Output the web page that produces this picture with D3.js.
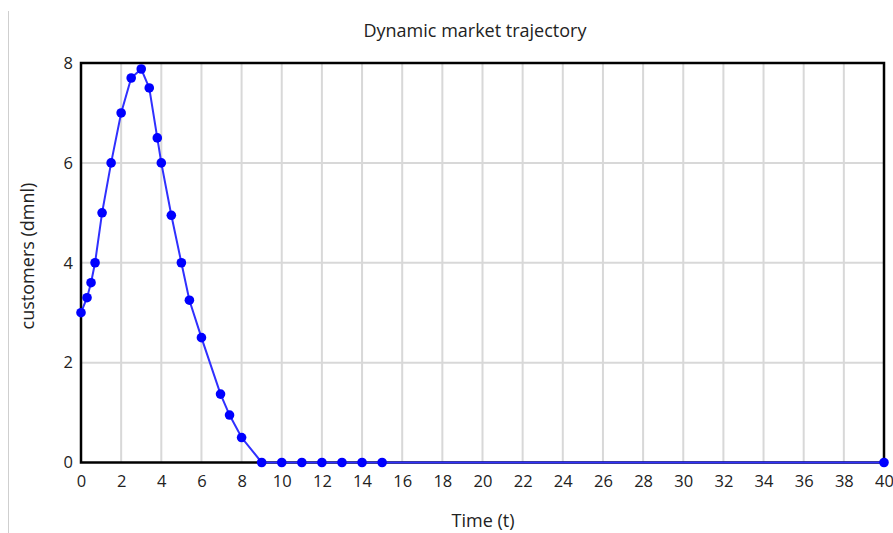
<!DOCTYPE html>
<html>
<head>
<meta charset="utf-8">
<script src="https://cdn.jsdelivr.net/npm/d3@7"></script>
<style>
  html, body { margin: 0; padding: 0; background: #fff; }
  svg { display: block; }
  text { font-family: "Open Sans", "Noto Sans", sans-serif; fill: #222; }
</style>
</head>
<body>
<svg id="chart" width="893" height="533"></svg>
<script>
// Simulated customer count over time
const times     = [0, 0.3, 0.5, 0.7, 1.05, 1.5, 2, 2.5, 3, 3.4, 3.8, 4, 4.5, 5, 5.4, 6, 6.95, 7.4, 8, 9, 10, 11, 12, 13, 14, 15, 40];
const customers = [3, 3.3, 3.6, 4, 5, 6, 7, 7.7, 7.88, 7.5, 6.5, 6, 4.95, 4, 3.25, 2.5, 1.37, 0.95, 0.5, 0, 0, 0, 0, 0, 0, 0, 0];
const xTicks = d3.range(0, 41, 2);
const yTicks = [0, 2, 4, 6, 8];
const titleText = "Dynamic market trajectory";
const xLabel = "Time (t)";
const yLabel = "customers (dmnl)";

const points = times.map((t, i) => ({ t, v: customers[i] }));

const svg = d3.select("#chart");
const plotL = 81, plotR = 884, plotT = 63, plotB = 462.5;

const x = d3.scaleLinear().domain([0, 40]).range([plotL, plotR]);
const y = d3.scaleLinear().domain([0, 8]).range([plotB, plotT]);

// thin separator on the far left
svg.append("line")
  .attr("x1", 8.5).attr("x2", 8.5).attr("y1", 11).attr("y2", 533)
  .attr("stroke", "#cfcfcf").attr("stroke-width", 1);

// grid
const grid = svg.append("g");
grid.selectAll("line.vx").data(xTicks.filter(d => d > 0 && d < 40)).join("line")
  .attr("x1", d => x(d)).attr("x2", d => x(d))
  .attr("y1", plotT).attr("y2", plotB)
  .attr("stroke", "#d8d8d8").attr("stroke-width", 2);
grid.selectAll("line.hy").data(yTicks.filter(d => d > 0 && d < 8)).join("line")
  .attr("x1", plotL).attr("x2", plotR)
  .attr("y1", d => y(d)).attr("y2", d => y(d))
  .attr("stroke", "#d8d8d8").attr("stroke-width", 2);

// axes (labels only; frame drawn separately)
const xAxis = svg.append("g").attr("transform", `translate(0,${plotB})`)
  .call(d3.axisBottom(x).tickValues(xTicks).tickSize(0).tickPadding(13));
xAxis.select(".domain").remove();
xAxis.selectAll("text").attr("font-size", 16.5).attr("font-family", null).attr("fill", "#222");

const yAxis = svg.append("g").attr("transform", `translate(${plotL},0)`)
  .call(d3.axisLeft(y).tickValues(yTicks).tickSize(0).tickPadding(8));
yAxis.select(".domain").remove();
yAxis.selectAll("text").attr("font-size", 16.5).attr("font-family", null).attr("fill", "#222");

// frame
svg.append("rect")
  .attr("x", plotL).attr("y", plotT)
  .attr("width", plotR - plotL).attr("height", plotB - plotT)
  .attr("fill", "none").attr("stroke", "#000").attr("stroke-width", 2.5);

// series
const line = d3.line().x(d => x(d.t)).y(d => y(d.v));
svg.append("path").datum(points)
  .attr("d", line)
  .attr("fill", "none").attr("stroke", "#3030ff").attr("stroke-width", 2);
svg.append("g").selectAll("circle").data(points).join("circle")
  .attr("cx", d => x(d.t)).attr("cy", d => y(d.v)).attr("r", 4.8)
  .attr("fill", "#0000ff");

// titles
svg.append("text").attr("x", 475).attr("y", 37)
  .attr("text-anchor", "middle").attr("font-size", 18).text(titleText);
svg.append("text").attr("x", 483).attr("y", 527)
  .attr("text-anchor", "middle").attr("font-size", 18).text(xLabel);
svg.append("text")
  .attr("transform", "translate(34,256) rotate(-90)")
  .attr("text-anchor", "middle").attr("font-size", 18).text(yLabel);
</script>
</body>
</html>
